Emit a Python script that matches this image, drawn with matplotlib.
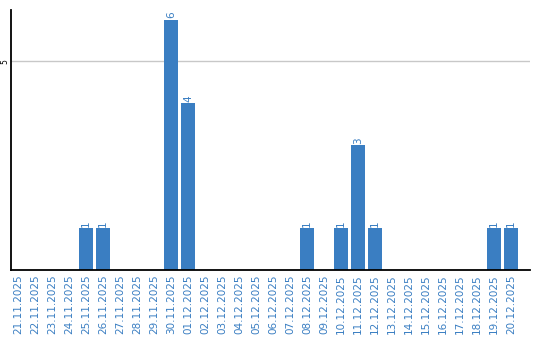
import matplotlib
matplotlib.use("Agg")
import matplotlib.pyplot as plt
import numpy as np

dates = ["21.11.2025", "22.11.2025", "23.11.2025", "24.11.2025", "25.11.2025",
         "26.11.2025", "27.11.2025", "28.11.2025", "29.11.2025", "30.11.2025",
         "01.12.2025", "02.12.2025", "03.12.2025", "04.12.2025", "05.12.2025",
         "06.12.2025", "07.12.2025", "08.12.2025", "09.12.2025", "10.12.2025",
         "11.12.2025", "12.12.2025", "13.12.2025", "14.12.2025", "15.12.2025",
         "16.12.2025", "17.12.2025", "18.12.2025", "19.12.2025", "20.12.2025"]
values = [0, 0, 0, 0, 1, 1, 0, 0, 0, 6,
          4, 0, 0, 0, 0, 0, 0, 1, 0, 1,
          3, 1, 0, 0, 0, 0, 0, 0, 1, 1]

blue = "#3a7ec2"
fig = plt.figure(figsize=(5.4, 3.4), dpi=100)
ax = fig.add_axes([11/540, 70/340, 519/540, 260/340])
x = np.arange(len(dates))
ax.bar(x, values, width=14/17, color=blue, zorder=2)
for xi, v in zip(x, values):
    if v > 0:
        ax.text(xi, v + 0.03, str(v), rotation=90, ha="center", va="bottom",
                color=blue, fontsize=7.5)
ax.set_xlim(-7/17, (530-18)/17)
ax.set_ylim(0, 6.23)
ax.set_yticks([5])
ax.set_yticklabels(["5"], rotation=90, va="center", fontsize=5.5)
ax.yaxis.grid(True, color="#c8c8c8", linewidth=1, zorder=0)
ax.set_xticks(x)
ax.set_xticklabels(dates, rotation=90, color=blue, fontsize=7.5)
ax.tick_params(axis="x", length=0, pad=3)
ax.tick_params(axis="y", length=0, pad=1)
for s in ["top", "right"]:
    ax.spines[s].set_visible(False)
for s in ["left", "bottom"]:
    ax.spines[s].set_color("black")
    ax.spines[s].set_linewidth(1.3)
fig.savefig("out.png", dpi=100)
